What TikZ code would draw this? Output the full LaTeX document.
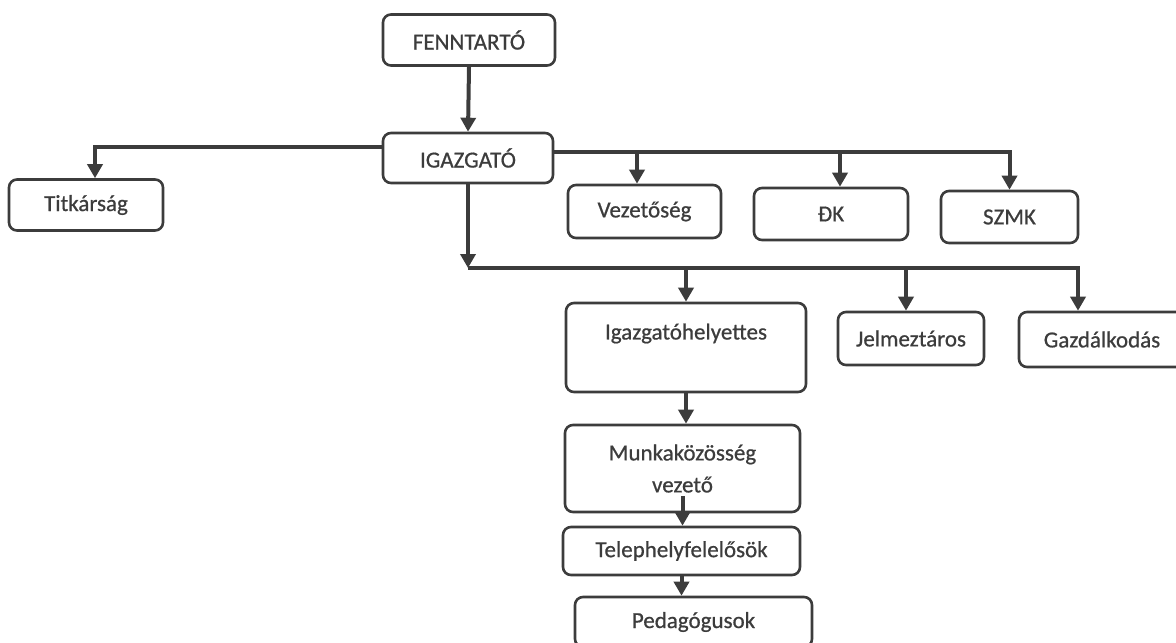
\documentclass[tikz,border=0pt]{standalone}
\usepackage{fontspec}
\setmainfont{Carlito}[FakeBold=0.7]
\usepackage{tikz}
\usetikzlibrary{arrows.meta}
\definecolor{ink}{HTML}{3C3C3C}

\begin{document}
\begin{tikzpicture}[x=0.5pt, y=-0.5pt,
      box/.style={draw=ink, rounded corners=4pt, line width=1.3pt, inner sep=0pt,
        text=ink, align=center, font=\fontsize{11.5}{16}\selectfont},
      arr/.style={draw=ink, line width=2pt, -{Triangle[width=7.5pt,length=7pt]}}]
      \useasboundingbox (0,0) rectangle (1176,642);
      % top levels
      \node[box, minimum width=86pt, minimum height=25.5pt] (fenn) at (469,40) {FENNTARTÓ};
      \node[box, minimum width=85pt, minimum height=25pt] (igaz) at (468,158) {IGAZGATÓ};
      \node[box, minimum width=77pt, minimum height=25.5pt] (titk) at (86,205) {Titkárság};
      \node[box, minimum width=76.5pt, minimum height=26.5pt] (vez) at (644.5,211.5) {Vezetőség};
      \node[box, minimum width=77pt, minimum height=26pt] (dk) at (831,214) {ÐK};
      \node[box, minimum width=68.5pt, minimum height=26pt] (szmk) at (1009.5,217) {SZMK};
      % second row
      \node[box, minimum width=120pt, minimum height=44.5pt] (ih) at (686,347.5) {Igazgatóhelyettes\\\mbox{}};
      \node[box, minimum width=73pt, minimum height=26.5pt] (jelm) at (911,338.5) {Jelmeztáros};
      \node[box, minimum width=83pt, minimum height=27.5pt] (gazd) at (1102,339.5) {Gazdálkodás};
      % chain
      \node[box, minimum width=117.5pt, minimum height=43.5pt] (mkv) at (682.5,468.5) {Munkaközösség\\vezető};
      \node[box, minimum width=118.5pt, minimum height=24pt] (tele) at (681.5,551) {Telephelyfelelősök};
      \node[box, minimum width=118.5pt, minimum height=25pt] (ped) at (693.5,622) {Pedagógusok};

      \coordinate (busA) at ([yshift=3pt]igaz.east);
      \coordinate (busB) at (468,268);

      \draw[arr] (fenn.south) -- (igaz.north);
      \draw[arr] ([yshift=5.5pt]igaz.west) -| ([xshift=4.5pt]titk.north);
      \draw[arr] (busA) -| (szmk.north);
      \draw[arr] ([xshift=-3.75pt]busA -| vez.north) -- ([xshift=-3.75pt]vez.north);
      \draw[arr] ([xshift=4.5pt]busA -| dk.north) -- ([xshift=4.5pt]dk.north);
      \draw[arr] (igaz.south) -- (busB);
      \draw[arr] (busB) -| ([xshift=-12pt]gazd.north);
      \draw[arr] (busB -| ih.north) -- (ih.north);
      \draw[arr] ([xshift=-2.5pt]busB -| jelm.north) -- ([xshift=-2.5pt]jelm.north);
      \draw[arr] (ih.south) -- (ih.south |- mkv.north);
      \draw[arr] ([yshift=8.5pt]mkv.south) -- (mkv.south |- tele.north);
      \draw[arr] (tele.south) -- (tele.south |- ped.north);
    \end{tikzpicture}
\end{document}
